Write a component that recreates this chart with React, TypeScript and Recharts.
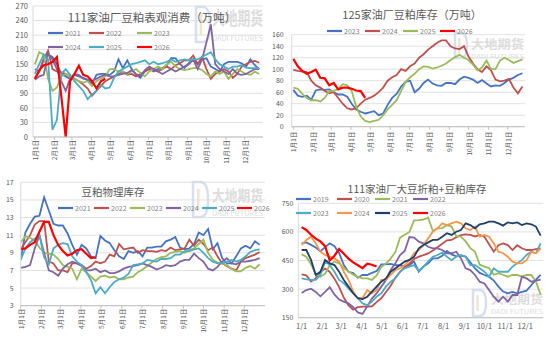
import React from 'react';
import { LineChart, Line, XAxis, YAxis, CartesianGrid } from 'recharts';

const FONT = '"Noto Sans CJK SC", "Noto Sans", sans-serif';

// ---------- shared tick labels ----------
const monthDays = [0, 31, 59, 90, 120, 151, 181, 212, 243, 273, 304, 334];
const cnMonthLabels = ['1月1日', '2月1日', '3月1日', '4月1日', '5月1日', '6月1日', '7月1日', '8月1日', '9月1日', '10月1日', '11月1日', '12月1日'];
const slashLabels = ['1/1', '2/1', '3/1', '4/1', '5/1', '6/1', '7/1', '8/1', '9/1', '10/1', '11/1', '12/1'];

// ---------- chart 1: 111家油厂豆粕表观消费（万吨） ----------
const c1Title = '111家油厂豆粕表观消费（万吨）';
const c1Ticks = [0, 30, 60, 90, 120, 150, 180, 210, 240, 270];
const c1_2021 = [140, 135, 160, 170, 165, 150, 130, 125, 120, 128, 125, 122, 118, 110, 128, 130, 130, 128, 135, 160, 142, 158, 140, 128, 122, 135, 140, 135, 140, 142, 148, 163, 162, 150, 142, 152, 160, 150, 160, 162, 145, 140, 135, 150, 155, 155, 155, 152, 145, 160, 148, 140];
const c1_2022 = [120, 135, 160, 178, 140, 135, 133, 130, 125, 120, 115, 108, 100, 85, 95, 105, 115, 120, 125, 130, 135, 128, 130, 125, 130, 135, 140, 138, 135, 140, 145, 140, 148, 152, 158, 158, 168, 150, 165, 140, 120, 130, 135, 140, 135, 122, 130, 145, 150, 155, 157, 153];
const c1_2023 = [150, 175, 170, 120, 95, 102, 125, 130, 125, 120, 115, 112, 115, 105, 115, 120, 125, 140, 140, 135, 135, 130, 135, 140, 132, 125, 135, 140, 145, 140, 150, 155, 145, 140, 138, 140, 142, 142, 138, 130, 125, 135, 130, 135, 120, 130, 140, 135, 130, 128, 135, 130];
const c1_2024 = [118, 125, 128, 172, 160, 140, 115, 95, 120, 130, 128, 120, 118, 115, 120, 125, 128, 125, 125, 128, 130, 132, 138, 130, 125, 138, 145, 140, 135, 130, 135, 140, 135, 140, 145, 150, 160, 140, 160, 195, 232, 150, 140, 135, 130, 140, 130, 128, 130, 135, 140, 140];
const c1_2025 = [130, 150, 170, 160, 15, 35, 130, 140, 128, 115, 105, 95, 78, 88, 95, 108, 100, 102, 122, 135, 140, 145, 150, 152, 155, 158, 150, 155, 150, 152, 155, 160, 155, 158, 160, 158, 160, 160, 165, 170, 175, 160, 150, 145, 140, 145, 145, 148, 143, 142, 142, 142];
const c1_2026 = [120, 138, 148, 150, 155, 165, 85, 0, 115, 130, 147, 128, 125, 115, 100, 115, 120];

// ---------- chart 2: 125家油厂豆粕库存（万吨） ----------
const c2Title = '125家油厂豆粕库存（万吨）';
const c2Ticks = [0, 20, 40, 60, 80, 100, 120, 140, 160];
const c2_2023 = [64, 54, 52, 54, 47, 63, 65, 64, 65, 60, 56, 56, 52, 40, 30, 26, 23, 25, 27, 20, 23, 38, 50, 57, 70, 78, 80, 60, 66, 76, 82, 75, 72, 71, 76, 76, 74, 82, 87, 85, 82, 76, 81, 75, 70, 72, 71, 76, 82, 85, 90, 93];
const c2_2024 = [99, 97, 96, 95, 80, 72, 68, 62, 58, 60, 50, 40, 32, 30, 32, 40, 47, 50, 54, 60, 68, 80, 86, 90, 100, 97, 105, 110, 120, 126, 134, 140, 146, 150, 150, 140, 136, 135, 140, 122, 110, 100, 95, 105, 98, 82, 79, 80, 83, 68, 58, 70];
const c2_2025 = [68, 66, 57, 50, 46, 46, 44, 50, 62, 62, 66, 74, 72, 62, 35, 18, 10, 8, 10, 12, 20, 30, 38, 46, 62, 78, 86, 92, 100, 105, 104, 101, 103, 106, 110, 116, 121, 125, 120, 116, 108, 98, 103, 115, 100, 100, 115, 120, 116, 111, 114, 117];
const c2_2026 = [118, 105, 97, 92, 95, 99, 85, 84, 72, 76, 65, 68, 68, 66, 63, 62, 50];

// ---------- chart 3: 豆粕物理库存 ----------
const c3Title = '豆粕物理库存';
const c3Ticks = [3, 5, 7, 9, 11, 13, 15, 17];
const c3_2021 = [8.2, 11.3, 12.3, 13.1, 13.2, 15.3, 13.8, 12.3, 12.1, 12.1, 11.2, 9.9, 8.8, 9.9, 9.5, 8.6, 8.4, 10.9, 10.4, 10.1, 9.3, 8.6, 8.3, 9.2, 9.0, 9.2, 8.6, 9.6, 9.6, 9.7, 9.7, 10.3, 10.5, 10.8, 9.6, 9.4, 9.5, 10.0, 11.3, 11.0, 11.7, 9.4, 10.1, 8.4, 7.8, 7.8, 8.6, 9.5, 9.8, 9.5, 10.3, 9.9];
const c3_2022 = [9.4, 10.2, 11.0, 12.2, 12.6, 12.6, 8.0, 7.8, 7.0, 7.0, 6.8, 7.8, 7.8, 7.6, 7.2, 7.5, 8.0, 7.8, 8.0, 8.8, 8.6, 10.0, 9.4, 9.5, 9.6, 9.0, 9.3, 9.2, 9.2, 9.1, 9.3, 9.2, 9.6, 9.3, 9.4, 9.5, 10.5, 9.8, 10.5, 10.0, 9.3, 9.6, 8.6, 7.8, 7.5, 7.2, 7.0, 8.0, 8.4, 8.6, 8.8, 9.1];
const c3_2023 = [10.2, 10.9, 10.7, 10.4, 9.6, 9.0, 8.9, 8.8, 8.3, 7.6, 7.4, 7.2, 6.0, 7.2, 6.8, 6.3, 5.8, 6.3, 6.4, 6.2, 6.3, 6.0, 6.0, 6.2, 6.3, 6.8, 7.1, 7.5, 7.9, 8.3, 8.5, 8.6, 9.0, 9.1, 9.2, 9.0, 9.3, 9.5, 10.0, 10.5, 9.0, 8.2, 7.9, 7.8, 7.6, 7.2, 6.9, 6.9, 7.3, 7.5, 7.2, 7.7];
const c3_2024 = [7.3, 7.4, 7.6, 9.5, 11.0, 9.0, 7.0, 6.8, 6.4, 7.2, 7.7, 8.0, 7.8, 7.5, 7.0, 7.0, 7.2, 6.8, 7.0, 6.7, 6.7, 6.9, 7.2, 7.4, 7.5, 7.6, 7.8, 7.6, 7.4, 7.1, 7.3, 7.6, 7.5, 7.6, 8.0, 8.2, 8.2, 8.9, 8.4, 8.0, 7.2, 7.0, 7.4, 8.0, 8.4, 7.8, 7.7, 8.0, 8.0, 8.1, 8.2, 8.4];
const c3_2025 = [8.2, 9.5, 10.2, 10.6, 11.0, 8.5, 7.7, 9.5, 9.9, 10.1, 10.0, 8.6, 8.0, 7.6, 6.8, 5.9, 4.4, 5.1, 4.4, 5.1, 5.7, 6.0, 6.2, 6.6, 7.6, 7.7, 7.8, 8.2, 8.1, 8.0, 8.3, 8.3, 8.4, 8.8, 8.8, 9.2, 9.2, 9.4, 9.5, 9.0, 8.4, 8.0, 7.8, 7.8, 8.0, 8.2, 8.0, 8.2, 8.6, 9.1, 9.3, 9.4];
const c3_2026 = [9.4, 9.5, 9.9, 10.2, 11.4, 12.5, 12.5, 11.0, 9.9, 9.2, 8.7, 8.9, 9.3, 9.4, 8.9, 8.4, 8.5];

// ---------- chart 4: 111家油厂大豆折粕+豆粕库存 ----------
const c4Title = '111家油厂大豆折粕+豆粕库存';
const c4Ticks = [150, 300, 450, 600, 750];
const c4_2019 = [540, 545, 532, 518, 498, 520, 540, 525, 490, 426, 391, 384, 360, 375, 374, 385, 395, 430, 430, 432, 426, 426, 418, 426, 444, 391, 418, 435, 461, 461, 475, 500, 482, 472, 475, 470, 440, 409, 385, 374, 365, 345, 313, 287, 278, 285, 278, 285, 292, 320, 350, 375];
const c4_2020 = [377, 372, 340, 356, 390, 408, 390, 355, 310, 255, 215, 192, 205, 208, 208, 210, 232, 252, 285, 318, 360, 390, 415, 433, 458, 470, 478, 487, 503, 520, 538, 556, 558, 572, 583, 587, 584, 576, 584, 575, 535, 496, 530, 540, 531, 505, 530, 514, 505, 505, 510, 514];
const c4_2021 = [482, 470, 430, 380, 365, 380, 426, 444, 435, 410, 392, 376, 365, 356, 356, 348, 372, 415, 435, 460, 495, 570, 585, 600, 660, 662, 665, 675, 605, 618, 620, 636, 628, 578, 575, 550, 515, 496, 428, 418, 410, 375, 383, 374, 365, 374, 374, 365, 374, 374, 340, 270];
const c4_2022 = [280, 295, 302, 285, 262, 285, 310, 272, 245, 234, 225, 205, 178, 170, 210, 250, 278, 313, 348, 400, 435, 478, 500, 573, 570, 549, 540, 522, 514, 514, 505, 488, 488, 496, 461, 409, 400, 374, 339, 330, 295, 260, 234, 260, 234, 269, 269, 365, 356, 339, 345, 350];
const c4_2023 = [356, 351, 348, 348, 374, 444, 426, 391, 348, 330, 304, 278, 252, 225, 216, 234, 260, 278, 313, 339, 356, 391, 409, 418, 426, 395, 418, 444, 470, 479, 492, 470, 452, 470, 479, 470, 426, 426, 409, 391, 365, 409, 391, 391, 391, 418, 435, 452, 479, 496, 488, 540];
const c4_2024 = [531, 558, 575, 540, 496, 479, 470, 461, 444, 391, 348, 287, 252, 252, 295, 278, 295, 348, 348, 374, 400, 409, 426, 452, 488, 505, 531, 566, 601, 619, 645, 636, 645, 654, 645, 619, 610, 627, 575, 584, 575, 540, 496, 488, 470, 444, 435, 435, 452, 496, 488, 514];
const c4_2025 = [505, 505, 453, 374, 391, 453, 435, 426, 391, 348, 313, 278, 252, 248, 260, 287, 313, 339, 356, 391, 409, 426, 444, 453, 470, 514, 531, 545, 558, 558, 575, 593, 584, 601, 610, 645, 636, 619, 640, 645, 654, 654, 645, 633, 650, 645, 650, 636, 645, 640, 628, 580];
const c4_2026 = [625, 610, 585, 565, 550, 525, 450, 475, 510, 485, 460, 440, 425, 410, 433, 428, 418];

// ---------- colours ----------
const BLUE = '#4472C4';
const BROWN = '#C0504D';
const GREEN = '#9BBB59';
const PURPLE = '#8064A2';
const CYAN = '#4BACC6';
const ORANGE = '#F79646';
const NAVY = '#1F3F6A';
const RED = '#FF0000';

type Series = { key: string; color: string; values: number[]; width?: number };

function build(series: Series[]) {
  const n = Math.max(...series.map((s) => s.values.length));
  const rows: any[] = [];
  for (let i = 0; i < n; i++) {
    const row: any = { day: i * 7 };
    series.forEach((s) => {
      if (i < s.values.length) row[s.key] = s.values[i];
    });
    rows.push(row);
  }
  return rows;
}

const s1: Series[] = [
  { key: '2021', color: BLUE, values: c1_2021 },
  { key: '2022', color: BROWN, values: c1_2022 },
  { key: '2023', color: GREEN, values: c1_2023 },
  { key: '2024', color: PURPLE, values: c1_2024 },
  { key: '2025', color: CYAN, values: c1_2025 },
  { key: '2026', color: RED, values: c1_2026, width: 2.2 },
];
const s2: Series[] = [
  { key: '2023', color: BLUE, values: c2_2023 },
  { key: '2024', color: BROWN, values: c2_2024 },
  { key: '2025', color: GREEN, values: c2_2025 },
  { key: '2026', color: RED, values: c2_2026, width: 2.2 },
];
const s3: Series[] = [
  { key: '2021', color: BLUE, values: c3_2021 },
  { key: '2022', color: BROWN, values: c3_2022 },
  { key: '2023', color: GREEN, values: c3_2023 },
  { key: '2024', color: PURPLE, values: c3_2024 },
  { key: '2025', color: CYAN, values: c3_2025 },
  { key: '2026', color: RED, values: c3_2026, width: 2.2 },
];
const s4: Series[] = [
  { key: '2019', color: BLUE, values: c4_2019 },
  { key: '2020', color: BROWN, values: c4_2020 },
  { key: '2021', color: GREEN, values: c4_2021 },
  { key: '2022', color: PURPLE, values: c4_2022 },
  { key: '2023', color: CYAN, values: c4_2023 },
  { key: '2024', color: ORANGE, values: c4_2024 },
  { key: '2025', color: NAVY, values: c4_2025 },
  { key: '2026', color: RED, values: c4_2026, width: 2.2 },
];

const labelFor = (v: number, labels: string[]) => {
  const idx = monthDays.indexOf(v);
  return idx >= 0 ? labels[idx] : '';
};

const RotTick = (props: any) => {
  const { x, y, payload } = props;
  return (
    <text
      transform={`translate(${x},${y}) rotate(-90)`}
      textAnchor="end"
      dominantBaseline="central"
      fontSize={6.5}
      fill="#595959"
      fontFamily={FONT}
    >
      {labelFor(payload.value, cnMonthLabels)}
    </text>
  );
};

const FlatTick = (props: any) => {
  const { x, y, payload } = props;
  return (
    <text x={x} y={y} textAnchor="middle" dominantBaseline="central" fontSize={7.5} fill="#595959" fontFamily={FONT}>
      {labelFor(payload.value, slashLabels)}
    </text>
  );
};

type PanelProps = {
  left: number;
  top: number;
  width: number;
  height: number;
  margin: { top: number; right: number; bottom: number; left: number };
  series: Series[];
  yDomain: [number, number];
  yTicks: number[];
  yWidth: number;
  yTickSize: number;
  yFont: number;
  xDomain: [number, number];
  xHeight: number;
  rotated: boolean;
  xTickSize: number;
  xTickMargin: number;
};

function Panel(p: PanelProps) {
  const data = build(p.series);
  return (
    <div style={{ position: 'absolute', left: p.left, top: p.top, width: p.width, height: p.height }}>
      <LineChart width={p.width} height={p.height} data={data} margin={p.margin}>
        <CartesianGrid vertical={false} stroke="#d9d9d9" strokeWidth={0.8} />
        <XAxis
          type="number"
          dataKey="day"
          domain={p.xDomain}
          ticks={monthDays}
          interval={0}
          allowDataOverflow
          height={p.xHeight}
          stroke="#bfbfbf"
          tickLine={p.rotated ? { stroke: '#bfbfbf' } : false}
          tickSize={p.xTickSize}
          tickMargin={p.xTickMargin}
          tick={p.rotated ? <RotTick /> : <FlatTick />}
        />
        <YAxis
          type="number"
          domain={p.yDomain}
          ticks={p.yTicks}
          interval={0}
          width={p.yWidth}
          stroke="#d9d9d9"
          tickLine={false}
          tickSize={p.yTickSize}
          tickMargin={2}
          tick={{ fontSize: p.yFont, fill: '#595959', fontFamily: FONT }}
        />
        {p.series.map((s) => (
          <Line
            key={s.key}
            type="linear"
            dataKey={s.key}
            stroke={s.color}
            strokeWidth={s.width ?? 1.8}
            dot={false}
            isAnimationActive={false}
            connectNulls={false}
          />
        ))}
      </LineChart>
    </div>
  );
}

const LegendItem = ({ x, y, color, label }: { x: number; y: number; color: string; label: string }) => (
  <g>
    <line x1={x} x2={x + 15} y1={y} y2={y} stroke={color} strokeWidth={2.2} />
    <text x={x + 17} y={y} dominantBaseline="central" fontSize={7} fill="#7f7f7f" fontFamily={FONT}>
      {label}
    </text>
  </g>
);

type WM = { lx: number; ly: number; lw: number; lh: number; tx: number; ty: number; tw: number; th: number; dy: number; dh: number };

const Watermark = ({ w }: { w: WM }) => (
  <g opacity={0.8}>
    <path
      d={`M${w.lx} ${w.ly} L${w.lx + w.lw * 0.5} ${w.ly} Q${w.lx + w.lw} ${w.ly} ${w.lx + w.lw} ${w.ly + w.lh / 2} Q${w.lx + w.lw} ${w.ly + w.lh} ${w.lx + w.lw * 0.5} ${w.ly + w.lh} L${w.lx} ${w.ly + w.lh} Z`}
      fill="none"
      stroke="#cdd9ea"
      strokeWidth={2.5}
    />
    <path
      d={`M${w.lx + w.lw * 0.35} ${w.ly + w.lh * 0.2} L${w.lx + w.lw * 0.35} ${w.ly + w.lh * 0.8}`}
      stroke="#eadfc4"
      strokeWidth={2.5}
    />
    <g transform={`translate(${w.tx},${w.ty + w.th}) scale(1,${w.th / (w.tw / 4)})`}>
      <text
        x={0}
        y={0}
        fontSize={w.tw / 4}
        fontWeight={700}
        fill="#d4d4d4"
        fontFamily={FONT}
        textLength={w.tw}
        lengthAdjust="spacingAndGlyphs"
        dominantBaseline="auto"
      >
        大地期货
      </text>
    </g>
    <text
      x={w.tx}
      y={w.dy + w.dh}
      fontSize={w.dh * 1.2}
      fill="#d6d6d6"
      fontFamily={FONT}
      textLength={w.tw}
      lengthAdjust="spacingAndGlyphs"
    >
      DADI FUTURES
    </text>
  </g>
);

const wm1: WM = { lx: 196, ly: 7, lw: 14, lh: 35, tx: 212, ty: 7, tw: 51, th: 18, dy: 35, dh: 6 };
const wm2: WM = { lx: 455, ly: 33, lw: 12, lh: 25, tx: 471, ty: 37, tw: 53, th: 12, dy: 54, dh: 5 };
const wm3: WM = { lx: 193, ly: 182, lw: 15, lh: 35, tx: 212, ty: 186, tw: 51, th: 15, dy: 210, dh: 6 };
const wm4: WM = { lx: 473, ly: 290, lw: 13, lh: 26, tx: 491, ty: 292, tw: 52, th: 12, dy: 309, dh: 5 };

const legend1 = [
  { x: 48, y: 33, c: BLUE, l: '2021' },
  { x: 89, y: 33, c: BROWN, l: '2022' },
  { x: 137, y: 33, c: GREEN, l: '2023' },
  { x: 48, y: 47, c: PURPLE, l: '2024' },
  { x: 89, y: 47, c: CYAN, l: '2025' },
  { x: 137, y: 47, c: RED, l: '2026' },
];
const legend2 = [
  { x: 327, y: 31, c: BLUE, l: '2023' },
  { x: 365, y: 31, c: BROWN, l: '2024' },
  { x: 403, y: 31, c: GREEN, l: '2025' },
  { x: 440, y: 31, c: RED, l: '2026' },
];
const legend3 = [
  { x: 58, y: 208, c: BLUE, l: '2021' },
  { x: 94, y: 208, c: BROWN, l: '2022' },
  { x: 130, y: 208, c: GREEN, l: '2023' },
  { x: 166, y: 208, c: PURPLE, l: '2024' },
  { x: 202, y: 208, c: CYAN, l: '2025' },
  { x: 237, y: 208, c: RED, l: '2026' },
];
const legend4 = [
  { x: 296, y: 199, c: BLUE, l: '2019' },
  { x: 337, y: 199, c: BROWN, l: '2020' },
  { x: 375, y: 199, c: GREEN, l: '2021' },
  { x: 413, y: 199, c: PURPLE, l: '2022' },
  { x: 296, y: 213, c: CYAN, l: '2023' },
  { x: 337, y: 213, c: ORANGE, l: '2024' },
  { x: 375, y: 213, c: NAVY, l: '2025' },
  { x: 413, y: 213, c: RED, l: '2026' },
];

export default function App() {
  return (
    <div style={{ position: 'absolute', left: 0, top: 0, width: 550, height: 337, background: '#fff', overflow: 'hidden', fontFamily: FONT }}>
      <svg width={550} height={337} style={{ position: 'absolute', left: 0, top: 0 }}>
        <Watermark w={wm1} />
        <Watermark w={wm2} />
        <Watermark w={wm3} />
        <Watermark w={wm4} />
      </svg>

      <Panel
        left={0}
        top={0}
        width={275}
        height={172}
        margin={{ top: 6, right: 12, bottom: 0, left: 8 }}
        series={s1}
        yDomain={[0, 270]}
        yTicks={c1Ticks}
        yWidth={25}
        yTickSize={3}
        yFont={7.5}
        xDomain={[-3, 363]}
        xHeight={35}
        rotated
        xTickSize={3}
        xTickMargin={0}
      />
      <Panel
        left={262}
        top={0}
        width={288}
        height={172}
        margin={{ top: 34.7, right: 25, bottom: 0, left: 8 }}
        series={s2}
        yDomain={[0, 160]}
        yTicks={c2Ticks}
        yWidth={21.7}
        yTickSize={6}
        yFont={7}
        xDomain={[-2.5, 361]}
        xHeight={45.3}
        rotated
        xTickSize={3}
        xTickMargin={2}
      />
      <Panel
        left={0}
        top={165}
        width={275}
        height={172}
        margin={{ top: 17.3, right: 10, bottom: 0, left: 0 }}
        series={s3}
        yDomain={[3, 17]}
        yTicks={c3Ticks}
        yWidth={20.7}
        yTickSize={5}
        yFont={7}
        xDomain={[0, 365]}
        xHeight={31.3}
        rotated
        xTickSize={3}
        xTickMargin={0}
      />
      <Panel
        left={262}
        top={165}
        width={288}
        height={172}
        margin={{ top: 38.3, right: 6.7, bottom: 0, left: 8 }}
        series={s4}
        yDomain={[150, 750]}
        yTicks={c4Ticks}
        yWidth={28.3}
        yTickSize={3}
        yFont={7}
        xDomain={[-5, 361]}
        xHeight={19.3}
        rotated={false}
        xTickSize={6}
        xTickMargin={2}
      />

      <svg width={550} height={337} style={{ position: 'absolute', left: 0, top: 0, pointerEvents: 'none' }}>
        <text x={152} y={17} textAnchor="middle" dominantBaseline="central" fontSize={11.5} fill="#595959" fontFamily={FONT}>
          {c1Title}
        </text>
        <text x={412} y={14} textAnchor="middle" dominantBaseline="central" fontSize={11} fill="#595959" fontFamily={FONT}>
          {c2Title}
        </text>
        <text x={113} y={191} textAnchor="middle" dominantBaseline="central" fontSize={10.5} fill="#595959" fontFamily={FONT}>
          {c3Title}
        </text>
        <text x={417} y={188} textAnchor="middle" dominantBaseline="central" fontSize={10.5} fill="#595959" fontFamily={FONT}>
          {c4Title}
        </text>
        {legend1.map((d) => <LegendItem key={'a' + d.l} x={d.x} y={d.y} color={d.c} label={d.l} />)}
        {legend2.map((d) => <LegendItem key={'b' + d.l} x={d.x} y={d.y} color={d.c} label={d.l} />)}
        {legend3.map((d) => <LegendItem key={'c' + d.l} x={d.x} y={d.y} color={d.c} label={d.l} />)}
        {legend4.map((d) => <LegendItem key={'d' + d.l} x={d.x} y={d.y} color={d.c} label={d.l} />)}
      </svg>
    </div>
  );
}
